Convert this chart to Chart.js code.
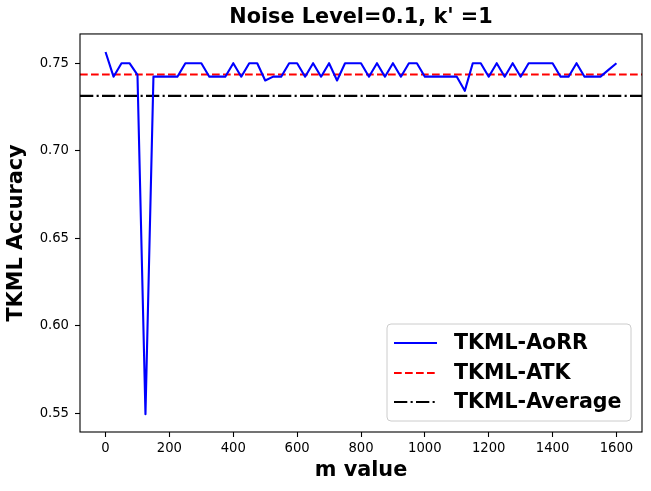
<!DOCTYPE html>
<html>
<head>
<meta charset="utf-8">
<script src="https://cdn.jsdelivr.net/npm/chart.js@4"></script>
<style>
  html, body { margin: 0; padding: 0; background: #fff; }
</style>
</head>
<body>
<canvas id="chart" width="651" height="491"></canvas>
<script>
const mValues = [0, 25, 50, 75, 100, 125, 150, 175, 200, 225, 250, 275, 300, 325, 350, 375,
  400, 425, 450, 475, 500, 525, 550, 575, 600, 625, 650, 675, 700, 725, 750, 775,
  800, 825, 850, 875, 900, 925, 950, 975, 1000, 1025, 1050, 1075, 1100, 1125, 1150, 1175,
  1200, 1225, 1250, 1275, 1300, 1325, 1350, 1375, 1400, 1425, 1450, 1475, 1500, 1525, 1550, 1575, 1600]

const aorr = [0.7564, 0.7423, 0.75, 0.75, 0.7433, 0.5495, 0.7423, 0.7423, 0.7423, 0.7423, 0.75, 0.75, 0.75, 0.7423, 0.7423, 0.7423,
  0.75, 0.7423, 0.75, 0.75, 0.7401, 0.7423, 0.7423, 0.75, 0.75, 0.7423, 0.75, 0.7423, 0.75, 0.7401, 0.75, 0.75,
  0.75, 0.7423, 0.75, 0.7423, 0.75, 0.7423, 0.75, 0.75, 0.7423, 0.7423, 0.7423, 0.7423, 0.7423, 0.7342, 0.75, 0.75,
  0.7423, 0.75, 0.7423, 0.75, 0.7423, 0.75, 0.75, 0.75, 0.75, 0.7423, 0.7423, 0.75, 0.7423, 0.7423, 0.7423, 0.7462, 0.75]

const atkLevel = 0.7435
const averageLevel = 0.7313

const xRange = [-80, 1680]
const yRange = [0.5393, 0.7667]
const xTicks = [0, 200, 400, 600, 800, 1000, 1200, 1400, 1600]
const yTicks = [0.55, 0.60, 0.65, 0.70, 0.75]

const seriesLabels = ["TKML-AoRR", "TKML-ATK", "TKML-Average"]

const FONT = "'DejaVu Sans', sans-serif"

// matplotlib-like frame and boxed legend
const frameAndLegend = {
  id: "frameAndLegend",
  afterDraw(chart) {
    const ctx = chart.ctx
    const a = chart.chartArea
    ctx.save()
    ctx.strokeStyle = "#000"
    ctx.lineWidth = 1.1
    ctx.strokeRect(a.left, a.top, a.right - a.left, a.bottom - a.top)

    const bx = 387, by = 324, bw = 244, bh = 97
    ctx.beginPath()
    ctx.roundRect(bx, by, bw, bh, 4)
    ctx.fillStyle = "rgba(255,255,255,0.8)"
    ctx.fill()
    ctx.strokeStyle = "#cccccc"
    ctx.lineWidth = 1
    ctx.stroke()

    const rows = [343, 373, 402]
    chart.data.datasets.forEach((ds, i) => {
      const y = rows[i]
      ctx.beginPath()
      ctx.setLineDash(ds.borderDash || [])
      ctx.strokeStyle = ds.borderColor
      ctx.lineWidth = ds.borderWidth
      ctx.moveTo(394, y)
      ctx.lineTo(437, y)
      ctx.stroke()
      ctx.setLineDash([])
      ctx.fillStyle = "#000"
      ctx.font = "bold 20.6px " + FONT
      ctx.textBaseline = "middle"
      ctx.textAlign = "left"
      ctx.fillText(ds.label, 454, y + 1)
    })
    ctx.restore()
  }
}

new Chart(document.getElementById("chart"), {
  type: "line",
  data: {
    datasets: [
      {
        label: seriesLabels[0],
        data: mValues.map((m, i) => ({x: m, y: aorr[i]})),
        borderColor: "#0000ff",
        borderWidth: 2.1,
        borderJoinStyle: "round",
        pointRadius: 0,
        tension: 0
      },
      {
        label: seriesLabels[1],
        data: xRange.map(x => ({x, y: atkLevel})),
        borderColor: "#ff0000",
        borderWidth: 2.1,
        borderDash: [7.7, 3.3],
        pointRadius: 0
      },
      {
        label: seriesLabels[2],
        data: xRange.map(x => ({x, y: averageLevel})),
        borderColor: "#000000",
        borderWidth: 2.1,
        borderDash: [13.3, 3.3, 2.1, 3.3],
        pointRadius: 0
      }
    ]
  },
  options: {
    responsive: false,
    animation: false,
    devicePixelRatio: 1,
    layout: {padding: {left: 0, right: 9, top: 0, bottom: 0}},
    plugins: {
      legend: {display: false},
      tooltip: {enabled: false},
      title: {
        display: true,
        fullSize: false,
        text: "Noise Level=0.1, k' =1",
        color: "#000",
        font: {family: FONT, size: 20.8, weight: "bold", lineHeight: 1.2},
        padding: {top: 5, bottom: 4}
      }
    },
    scales: {
      x: {
        type: "linear",
        min: xRange[0],
        max: xRange[1],
        afterFit: s => { s.height = 59 },
        afterBuildTicks: s => { s.ticks = xTicks.map(v => ({value: v})) },
        grid: {drawOnChartArea: false, drawTicks: true, tickLength: 5, tickColor: "#000", tickWidth: 1.1},
        border: {display: false},
        ticks: {color: "#000", font: {family: FONT, size: 13.2}, padding: 4, maxRotation: 0, callback: v => String(v)},
        title: {
          display: true,
          text: "m value",
          color: "#000",
          font: {family: FONT, size: 20.8, weight: "bold", lineHeight: 1.2},
          padding: {top: 0, bottom: 8}
        }
      },
      y: {
        type: "linear",
        min: yRange[0],
        max: yRange[1],
        afterFit: s => { s.width = 80 },
        afterBuildTicks: s => { s.ticks = yTicks.map(v => ({value: v})) },
        grid: {drawOnChartArea: false, drawTicks: true, tickLength: 5, tickColor: "#000", tickWidth: 1.1},
        border: {display: false},
        ticks: {color: "#000", font: {family: FONT, size: 13.2}, padding: 6, callback: v => v.toFixed(2)},
        title: {
          display: true,
          text: "TKML Accuracy",
          color: "#000",
          font: {family: FONT, size: 20.8, weight: "bold", lineHeight: 1.2},
          padding: {top: 4, bottom: 0}
        }
      }
    }
  },
  plugins: [frameAndLegend]
})
</script>
</body>
</html>
